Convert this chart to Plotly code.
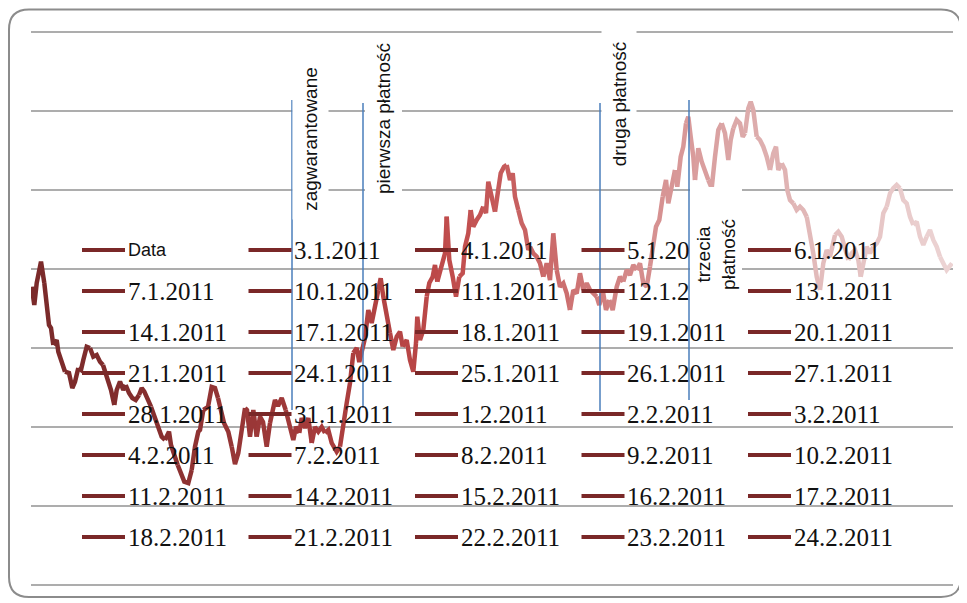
import plotly.graph_objects as go

# ---- data series ----
t = [0.7, 3.3, 5.7, 10, 13.3, 15.7, 18, 20, 22.3, 25.7, 27.3, 30.7, 34, 38, 41.3, 44, 47.3, 50, 52.3, 55.7,
     59, 62.3, 65.7, 69, 72, 74.7, 77.3, 80, 83.3, 85.7, 89, 92.3, 94.7, 98, 101.3, 104.7, 108, 110.7, 113.3, 116.7,
     120, 124, 127.3, 130.7, 134, 138, 140, 143.3, 146.7, 150, 153.3, 157.3, 160.7, 164, 167.3, 169, 172.3, 177, 180.7, 184,
     187, 189, 193, 197.3, 200.7, 204, 207.3, 210.7, 214, 216, 219, 222.3, 225.7, 229, 232, 235.7, 239, 244, 247, 250.7,
     254.7, 259, 262.3, 265, 268.3, 270.7, 274, 277.3, 280.7, 284, 287.3, 290.7, 294, 297.3, 300.7, 305.7, 309, 312.3, 315.7, 319,
     322.3, 325.7, 328.3, 332.3, 334, 337.3, 340.7, 344, 347.3, 349.7, 352.3, 355.7, 359, 362.3, 365.7, 369, 371.7, 375.7, 379, 382.3,
     385, 386.3, 389, 392.3, 395.7, 398.3, 401.7, 404, 406.3, 409, 411.7, 414, 415.7, 418.3, 421.7, 425, 428.3, 431.7, 434, 437.3,
     439.7, 442.3, 445.7, 449, 452.3, 455, 457.3, 460.7, 464, 466.7, 469.7, 473, 475.7, 479, 481.7, 484, 487.3, 490.7, 494, 497.3,
     499, 502.3, 505.7, 509, 512.3, 515.7, 519, 522.3, 525.7, 529, 532.3, 535.7, 539, 542.3, 545.7, 549, 552.3, 555.7, 559, 562.3,
     565.7, 568.3, 571.7, 575, 578.3, 581.7, 585.7, 589, 592.3, 595.7, 599, 602.3, 605.7, 609, 612.3, 615.7, 619, 622.3, 625, 628.3,
     631.7, 635, 637.3, 640.7, 644, 646.3, 649.7, 652.3, 655, 657.3, 659.7, 662.3, 664, 667.3, 670.7, 674, 677.3, 680.7, 684, 687.3,
     690.7, 694, 697.3, 699.7, 702.3, 705.7, 709, 711.7, 714, 717.3, 719.7, 722.3, 725.7, 729, 732.3, 735.7, 739, 742.3, 745, 747.3,
     750.7, 754, 756.3, 759, 762.3, 765.7, 769, 772.3, 775.7, 779, 782.3, 785.7, 789, 792.3, 795.7, 799, 804, 807.3, 810.7, 814,
     817.3, 820.7, 824, 827.3, 829.7, 832.3, 835.7, 839, 842.3, 845.7, 849, 852.3, 855.7, 859, 862.3, 865.7, 869, 872.3, 875.7, 879,
     882.3, 885.7, 889, 892.3, 895.7, 899, 902.3, 905.7, 909, 912.3, 915.7, 918.3, 921]
v = [298.3, 280, 302, 323.3, 302, 282, 260, 257, 240, 245, 233.3, 223.3, 213.3, 212, 197, 203.3, 217, 215, 225, 238.3,
     237, 228.3, 230, 223.3, 220, 212, 205, 195, 180, 195, 203.3, 195, 200, 192, 187, 185, 190, 197, 193.3, 185,
     178.3, 167, 157, 148.3, 145, 153.3, 140, 128.3, 120, 112, 103.3, 102, 115, 138.3, 153.3, 155, 175, 178, 198, 197,
     187, 178.3, 162, 153.3, 138.3, 121, 132, 152, 177, 175, 148.3, 175, 148.3, 168.3, 163, 138.3, 162, 185, 179, 187,
     175, 158.3, 145, 158.3, 152, 167, 157, 167, 142, 158, 153.3, 158, 152, 155, 142, 133.3, 138.3, 163.3, 182, 202,
     232, 237, 223, 237, 247, 275, 262, 278.3, 295, 306.7, 288.3, 268.3, 252, 235, 248.3, 253.3, 238.3, 245, 225, 213.3,
     242, 268.3, 245, 255, 288.3, 302, 308.3, 320, 303.3, 313.3, 325, 331.7, 368.3, 325, 308.3, 288.3, 308.3, 311.7, 338.3, 351.7,
     375, 358.3, 365, 370, 378.3, 372, 403.3, 388.3, 373.3, 391.7, 411.7, 418.3, 420, 405, 411.7, 388.3, 375, 361.7, 355, 335,
     338.3, 331.7, 328.3, 321.7, 308.3, 321.7, 305, 351.7, 315, 298.3, 301.7, 291.7, 275, 295, 291.7, 311.7, 295, 301.7, 295, 291.7,
     288.3, 280, 295, 275, 285, 275, 298.3, 308.3, 303.3, 315, 310, 320, 315, 321.7, 301.7, 298.3, 318.3, 338.3, 358.3, 365,
     388.3, 405, 381.7, 401.7, 415, 398.3, 428.3, 438.3, 461.7, 468.3, 448.3, 428.3, 405, 436.7, 423.3, 415, 405, 397, 428.3, 455,
     461.7, 451.7, 425, 445, 456.7, 465, 461.7, 448.3, 452, 476.7, 483.3, 475, 448.3, 445, 438.3, 428.3, 415, 431.7, 438.3, 415,
     421.7, 415, 395, 385, 381.7, 375, 378.3, 375, 368.3, 351.7, 331.7, 308.3, 295, 321.7, 335, 328.3, 350, 353.3, 348.3, 335,
     325, 331.7, 335, 325, 308.3, 321.7, 338.3, 331.7, 338.3, 341.7, 348.3, 371.7, 378.3, 391.7, 396.7, 400, 396.7, 385, 381.7, 368.3,
     360, 363.3, 348.3, 340, 348.3, 355, 345, 338.3, 328.3, 321.7, 315, 318.3, 321.7]

# vertical event markers
marker_t = [261, 332, 569, 658]
marker_lo = [175, 177, 174, 185]
marker_hi = [485, 482, 482, 485]

# event labels
label_texts = ["zagwarantowane", "pierwsza płatność", "druga płatność", "trzecia<br>płatność"]
label_t = [279.5, 352, 588, 684.5]
label_v = [445.5, 466.5, 481, 330]
label_len = [160, 166, 154, 134]
label_thick = [35, 36, 34, 51]

# legend labels
legend_labels = ["Data", "3.1.2011", "4.1.2011", "5.1.2011", "6.1.2011",
                 "7.1.2011", "10.1.2011", "11.1.2011", "12.1.2011", "13.1.2011",
                 "14.1.2011", "17.1.2011", "18.1.2011", "19.1.2011", "20.1.2011",
                 "21.1.2011", "24.1.2011", "25.1.2011", "26.1.2011", "27.1.2011",
                 "28.1.2011", "31.1.2011", "1.2.2011", "2.2.2011", "3.2.2011",
                 "4.2.2011", "7.2.2011", "8.2.2011", "9.2.2011", "10.2.2011",
                 "11.2.2011", "14.2.2011", "15.2.2011", "16.2.2011", "17.2.2011",
                 "18.2.2011", "21.2.2011", "22.2.2011", "23.2.2011", "24.2.2011"]

# ---- styling ----
grid_vals = [0, 79, 158, 237, 316, 395, 474, 553]
color_stops = [(0, (122, 42, 42)), (100, (130, 45, 45)), (200, (150, 54, 54)), (300, (168, 60, 60)),
               (420, (192, 76, 76)), (530, (204, 110, 110)), (620, (214, 144, 144)),
               (720, (221, 172, 172)), (820, (229, 194, 194)), (922, (236, 212, 212))]


def grad(x):
    for (x0, c0), (x1, c1) in zip(color_stops[:-1], color_stops[1:]):
        if x <= x1:
            f = (x - x0) / (x1 - x0)
            return "rgb(%d,%d,%d)" % tuple(round(a + (b - a) * f) for a, b in zip(c0, c1))
    return "rgb(%d,%d,%d)" % color_stops[-1][1]


fig = go.Figure()
step = 4
for i in range(0, len(t) - 1, step):
    seg_t = t[i:i + step + 1]
    seg_v = v[i:i + step + 1]
    mid = (seg_t[0] + seg_t[-1]) / 2
    fig.add_trace(go.Scatter(x=seg_t, y=seg_v, mode="lines",
                             line=dict(color=grad(mid), width=4.5),
                             showlegend=False, hoverinfo="skip"))

for mt, lo, hi in zip(marker_t, marker_lo, marker_hi):
    fig.add_trace(go.Scatter(x=[mt, mt], y=[lo, hi], mode="lines",
                             line=dict(color="#4A7EBB", width=1.5),
                             showlegend=False, hoverinfo="skip"))

shapes = []
annotations = []

# legend grid
col0, col_step, row0, row_step, ncol = 51, 166.5, 335, -41, 5
sample_len = 43
for k, lab in enumerate(legend_labels):
    cx = col0 + (k % ncol) * col_step
    ry = row0 + (k // ncol) * row_step
    shapes.append(dict(type="line", xref="x", yref="y", x0=cx, x1=cx + sample_len, y0=ry, y1=ry,
                       line=dict(color="#7A2828", width=4), layer="above"))
    if k == 0:
        fnt = dict(family="Liberation Sans", size=18, color="#111111")
    else:
        fnt = dict(family="Liberation Serif", size=25, color="#111111")
    annotations.append(dict(x=cx + sample_len + 1.5, y=ry, xref="x", yref="y", text=lab,
                            showarrow=False, xanchor="left", yanchor="middle",
                            font=fnt, borderpad=0))

# event labels with white boxes
for txt, lt, lv, ln, th in zip(label_texts, label_t, label_v, label_len, label_thick):
    annotations.append(dict(x=lt, y=lv, xref="x", yref="y", text=txt, showarrow=False,
                            textangle=-90, width=ln, height=th, bgcolor="white",
                            borderpad=0, xanchor="center", yanchor="middle",
                            font=dict(family="Liberation Sans", size=19, color="#111111")))

# figure geometry (page is drawn with an 8px body margin)
W, H = 959, 595
ml, mr, mt_, mb = 23, 14, 21, 15
pw, ph = W - ml - mr, H - mt_ - mb


def px(xp):
    return (xp - ml) / pw


def py(yp):
    return (H - mb - yp) / ph


# rounded outer frame (paper coordinates)
fl, ft, fr, fb, rad = 1, 1.5, 953, 589, 20
path = ("M {a},{b} L {c},{b} Q {d},{b} {d},{e} L {d},{f} Q {d},{g} {c},{g} "
        "L {a},{g} Q {h},{g} {h},{f} L {h},{e} Q {h},{b} {a},{b} Z").format(
    a=px(fl + rad), b=py(ft), c=px(fr - rad), d=px(fr), e=py(ft + rad),
    f=py(fb - rad), g=py(fb), h=px(fl))
shapes.append(dict(type="path", xref="paper", yref="paper", path=path,
                   line=dict(color="#8C8C8C", width=2), layer="above"))

fig.update_layout(
    width=W, height=H,
    margin=dict(l=ml, r=mr, t=mt_, b=mb),
    paper_bgcolor="white", plot_bgcolor="white",
    showlegend=False,
    shapes=shapes, annotations=annotations,
    xaxis=dict(range=[0, 922], showgrid=False, zeroline=False, showticklabels=False,
               showline=False, ticks=""),
    yaxis=dict(range=[-3, 556], tickvals=grid_vals, showgrid=True, gridcolor="#ADADAD",
               gridwidth=1.5, zeroline=False, showticklabels=False, showline=False, ticks=""),
)

fig.write_html("out.html")
